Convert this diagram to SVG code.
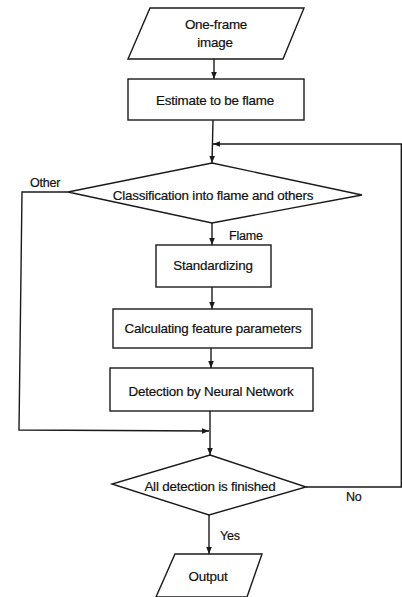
<svg xmlns="http://www.w3.org/2000/svg" width="402" height="597" viewBox="0 0 402 597">
  <style>
    .shape { fill: #fff; stroke: #1a1a1a; stroke-width: 1.4; }
    .edge { fill: none; stroke: #1a1a1a; stroke-width: 1.4; }
    .t { font-family: "Liberation Sans", Arial, sans-serif; font-size: 13.4px; fill: #111; text-anchor: middle; letter-spacing: -0.2px; stroke: #111; stroke-width: 0.2; }
    .lbl { font-family: "Liberation Sans", Arial, sans-serif; font-size: 12.5px; fill: #111; letter-spacing: -0.2px; stroke: #111; stroke-width: 0.2; }
  </style>
  <defs>
    <marker id="arrow" viewBox="0 0 10 10" refX="10" refY="5" markerWidth="5" markerHeight="5" orient="auto">
      <path d="M0,1 L10,5 L0,9 Z" fill="#1a1a1a"/>
    </marker>
  </defs>
  <rect width="402" height="597" fill="#fff"/>

  <g id="connectors">
    <line class="edge" x1="214" y1="59" x2="214" y2="79" marker-end="url(#arrow)"/>
    <line class="edge" x1="213" y1="120" x2="212" y2="163" marker-end="url(#arrow)"/>
    <polyline class="edge" points="306,487 401.3,487 401.3,144 213,144" marker-end="url(#arrow)"/>
    <line class="edge" x1="212" y1="223" x2="212" y2="245" marker-end="url(#arrow)"/>
    <line class="edge" x1="212" y1="287" x2="212" y2="309" marker-end="url(#arrow)"/>
    <line class="edge" x1="211" y1="348" x2="211" y2="368" marker-end="url(#arrow)"/>
    <line class="edge" x1="210" y1="411" x2="210" y2="455" marker-end="url(#arrow)"/>
    <polyline class="edge" points="68,192 22,192 19,430 209,431" marker-end="url(#arrow)"/>
    <line class="edge" x1="209" y1="515" x2="209" y2="554" marker-end="url(#arrow)"/>
  </g>

  <g id="input">
    <polygon class="shape" points="150,8 304,8 283,59 128,59"/>
    <text class="t" x="216" y="29">One-frame</text>
    <text class="t" x="215" y="47">image</text>
  </g>

  <g id="estimate">
    <rect class="shape" x="128" y="79" width="176" height="41"/>
    <text class="t" x="215" y="105">Estimate to be flame</text>
  </g>

  <g id="classify">
    <polygon class="shape" points="212,163 362,195 212,223 68,192"/>
    <text class="t" x="213" y="200">Classification into flame and others</text>
  </g>

  <g id="standardize">
    <rect class="shape" x="156" y="245" width="115" height="42"/>
    <text class="t" x="213" y="270">Standardizing</text>
  </g>

  <g id="features">
    <rect class="shape" x="113" y="309" width="199" height="39"/>
    <text class="t" x="213" y="333">Calculating feature parameters</text>
  </g>

  <g id="neural">
    <rect class="shape" x="110" y="368" width="203" height="43"/>
    <text class="t" x="211" y="396">Detection by Neural Network</text>
  </g>

  <g id="finished">
    <polygon class="shape" points="210,455 306,487 209,515 112,484"/>
    <text class="t" x="210" y="491">All detection is finished</text>
  </g>

  <g id="output">
    <polygon class="shape" points="175,554 262,554 247,597 156,597"/>
    <text class="t" x="208" y="581">Output</text>
  </g>

  <g id="labels">
    <text class="lbl" x="30" y="187">Other</text>
    <text class="lbl" x="229" y="240">Flame</text>
    <text class="lbl" x="346" y="501">No</text>
    <text class="lbl" x="220" y="540">Yes</text>
  </g>
</svg>
